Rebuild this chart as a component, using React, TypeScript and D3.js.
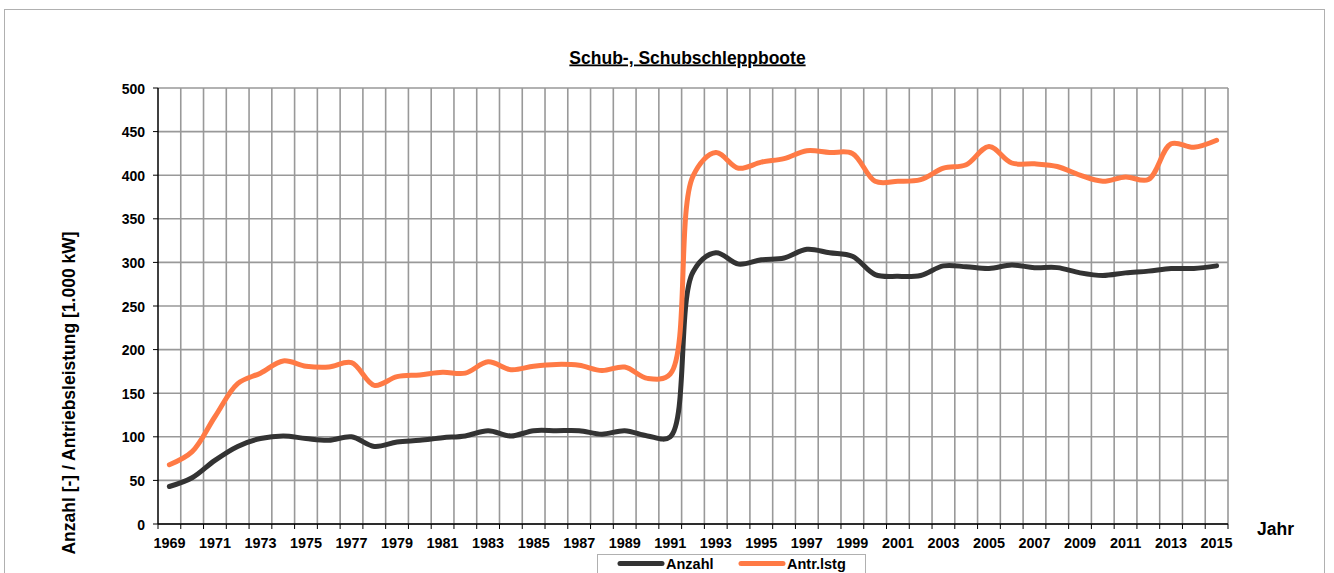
import React from "react";
import * as d3 from "d3";

const years: number[] = d3.range(1969, 2016);
const anzahl: number[] = [
  43, 53, 73, 89, 98, 101, 98, 96, 100, 89, 94, 96, 99, 101, 107, 101, 107, 107, 107, 103, 107, 101, 100,
  289, 311, 298, 303, 305, 315, 311, 307, 286, 284, 285, 296, 295, 293, 297, 294, 294, 288, 285, 288, 290, 293, 293, 296,
];
const antrieb: number[] = [
  68, 83, 123, 161, 173, 187, 181, 180, 185, 159, 169, 171, 174, 173, 186, 177, 181, 183, 182, 176, 180, 167, 172,
  399, 426, 408, 415, 419, 428, 426, 425, 393, 393, 395, 408, 412, 433, 414, 413, 410, 400, 393, 398, 395, 436, 432, 440,
];
const yTicks: number[] = [0, 50, 100, 150, 200, 250, 300, 350, 400, 450, 500];
const seriesNames: string[] = ["Anzahl", "Antr.lstg"];
const seriesColors: string[] = ["#333333", "#FF7A45"];

const W = 1334;
const H = 573;
const left = 158;
const right = 1228;
const top = 88;
const bottom = 524;

export default function App() {
  const x = d3.scaleBand<number>().domain(years).range([left, right]).paddingInner(0).paddingOuter(0);
  const y = d3.scaleLinear().domain([0, 500]).range([bottom, top]);
  const line = d3
    .line<number>()
    .x((_, i) => (x(years[i]) as number) + x.bandwidth() / 2)
    .y((d) => y(d))
    .curve(d3.curveCatmullRom.alpha(0.5));
  const font = "Arial, 'Liberation Sans', sans-serif";
  const boundaries = years.map((yr) => x(yr) as number).concat([right]);
  const series = [anzahl, antrieb];
  return (
    <svg width={W} height={H} style={{ position: "absolute", left: 0, top: 0 }} fontFamily={font}>
      <rect x={0} y={0} width={W} height={H} fill="#fff" />
      <rect x={4.5} y={9.5} width={1320} height={600} fill="none" stroke="#b0b0b0" strokeWidth={1} />
      <text x={687.5} y={63.5} textAnchor="middle" fontSize={17.5} fontWeight="bold" textDecoration="underline">
        Schub-, Schubschleppboote
      </text>
      {/* horizontal grid */}
      {yTicks.map((t) => (
        <line key={"h" + t} x1={left} x2={right} y1={y(t)} y2={y(t)} stroke="#999" strokeWidth={1.6} />
      ))}
      {/* vertical grid */}
      {boundaries.slice(1).map((bx, i) => (
        <line key={"v" + i} x1={bx} x2={bx} y1={top} y2={bottom} stroke="#999" strokeWidth={1.6} />
      ))}
      {/* axes */}
      <line x1={left} x2={left} y1={top} y2={bottom} stroke="#000" strokeWidth={1.5} />
      <line x1={left} x2={right} y1={bottom} y2={bottom} stroke="#000" strokeWidth={1.5} />
      {yTicks.map((t) => (
        <g key={"yt" + t}>
          <line x1={left - 5} x2={left} y1={y(t)} y2={y(t)} stroke="#000" strokeWidth={1} />
          <text x={145} y={y(t) + 5.5} textAnchor="end" fontSize={14} fontWeight="bold">
            {t}
          </text>
        </g>
      ))}
      {boundaries.map((bx, i) => (
        <line key={"xt" + i} x1={bx} x2={bx} y1={bottom} y2={bottom + 5} stroke="#000" strokeWidth={1} />
      ))}
      {years.map((yr, i) =>
        i % 2 === 0 ? (
          <text
            key={"xl" + yr}
            x={(x(yr) as number) + x.bandwidth() / 2}
            y={548}
            textAnchor="middle"
            fontSize={14.4}
            fontWeight="bold"
          >
            {yr}
          </text>
        ) : null
      )}
      <text x={1257} y={535} textAnchor="start" fontSize={17.5} fontWeight="bold">
        Jahr
      </text>
      <text
        transform={`translate(75,393) rotate(-90)`}
        textAnchor="middle"
        fontSize={17.5}
        fontWeight="bold"
      >
        Anzahl [-] / Antriebsleistung [1.000 kW]
      </text>
      {/* lines */}
      {series.map((s, i) => (
        <path
          key={"s" + i}
          d={line(s) as string}
          fill="none"
          stroke={seriesColors[i]}
          strokeWidth={5}
          strokeLinecap="round"
          strokeLinejoin="round"
        />
      ))}
      {/* legend */}
      <rect x={597.5} y={554.5} width={268} height={30} fill="#fff" stroke="#b0b0b0" strokeWidth={1} />
      {seriesNames.map((n, i) => {
        const lx = 620 + i * 121;
        return (
          <g key={"lg" + i}>
            <line x1={lx} x2={lx + 42} y1={563.5} y2={563.5} stroke={seriesColors[i]} strokeWidth={5} strokeLinecap="round" />
            <text x={lx + 46} y={569} fontSize={14.5} fontWeight="bold">
              {n}
            </text>
          </g>
        );
      })}
    </svg>
  );
}
